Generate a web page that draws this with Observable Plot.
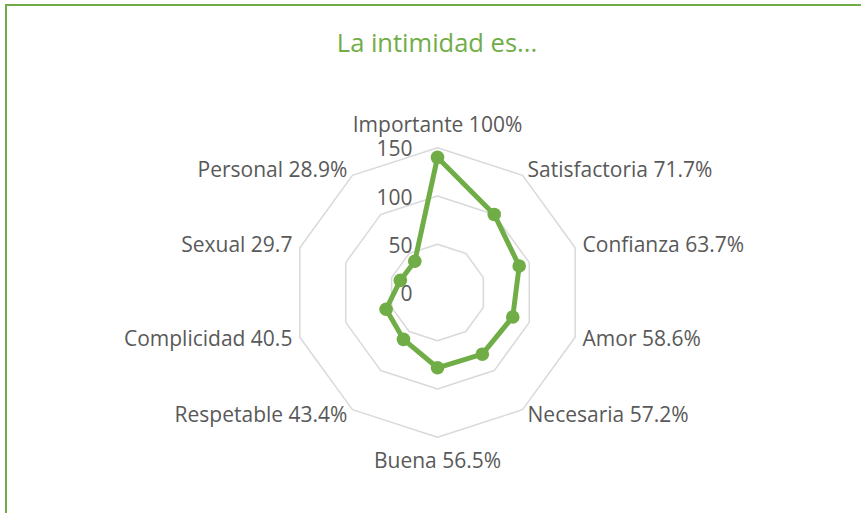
<!DOCTYPE html>
<html>
<head>
<meta charset="utf-8">
<script src="https://cdn.jsdelivr.net/npm/d3@7"></script>
<script src="https://cdn.jsdelivr.net/npm/@observablehq/plot@0.6"></script>
<style>
  html, body { margin: 0; padding: 0; background: #fff; overflow: hidden; }
  #wrap { position: relative; width: 861px; height: 513px; overflow: hidden; background: #fff; }
  #frame { position: absolute; left: 5px; top: 4px; width: 1000px; height: 1000px;
           border-top: 2px solid #70AD47; border-left: 2px solid #70AD47; pointer-events: none; z-index: 5; }
  #title { height: 80px; position: relative; }
  #title span { position: absolute; left: 0; width: 874px; top: 30px; text-align: center;
                font-family: "Open Sans", sans-serif; font-size: 25.5px; line-height: 1; color: #70AD47; }
  #chart svg { display: block; }
</style>
</head>
<body>
<div id="wrap">
  <div id="frame"></div>
  <div id="title"><span>La intimidad es...</span></div>
  <div id="chart"></div>
</div>
<script>
const categories = ["Importante 100%", "Satisfactoria 71.7%", "Confianza 63.7%", "Amor 58.6%",
  "Necesaria 57.2%", "Buena 56.5%", "Respetable 43.4%", "Complicidad 40.5", "Sexual 29.7", "Personal 28.9%"];
const values = [140, 100, 89, 82, 79, 78, 60, 56, 40.5, 40];
const ringLevels = [50, 100, 150];
const tickValues = [0, 50, 100, 150];
const tickLabels = ["0", "50", "100", "150"];

const n = categories.length;
const labelR = 157;
const k = 0.965;           // pixels per data unit
const W = 861, H = 433, cx = 437, cy = 212;
const ang = i => (i % n) * 2 * Math.PI / n;

const pts = categories.map((c, i) => ({cat: c, v: values[i], x: values[i] * Math.sin(ang(i)), y: values[i] * Math.cos(ang(i))}));
const closed = [...pts, pts[0]];
const rings = ringLevels.flatMap(l => d3.range(n + 1).map(i => ({level: l, x: l * Math.sin(ang(i)), y: l * Math.cos(ang(i))})));
const labels = categories.map((c, i) => ({cat: c, s: Math.sin(ang(i)), c2: Math.cos(ang(i)),
  x: labelR * Math.sin(ang(i)), y: labelR * Math.cos(ang(i))}));
const ticks = tickValues.map((v, i) => ({v, t: tickLabels[i]}));

const eps = 1e-6;
const txt = {fill: "#595959", fontSize: 21, fontFamily: "Open Sans"};

const chart = Plot.plot({
  width: W, height: H, margin: 0,
  x: {domain: [-cx / k, (W - cx) / k], axis: null},
  y: {domain: [-(H - cy) / k, cy / k], axis: null},
  style: {fontFamily: "Open Sans", background: "transparent", color: "#595959"},
  marks: [
    Plot.line(rings, {x: "x", y: "y", z: "level", stroke: "#D9D9D9", strokeWidth: 1.5}),
    Plot.text(ticks, {x: 0, y: "v", text: "t", textAnchor: "end", dx: -25, dy: 2, ...txt}),
    Plot.line(closed, {x: "x", y: "y", stroke: "#70AD47", strokeWidth: 5, strokeLinejoin: "round"}),
    Plot.dot(pts, {x: "x", y: "y", r: 6.8, fill: "#70AD47", stroke: "none"}),
    Plot.text(labels.filter(d => d.s > eps), {x: "x", y: "y", text: "cat", textAnchor: "start", dx: 1, ...txt}),
    Plot.text(labels.filter(d => d.s < -eps), {x: "x", y: "y", text: "cat", textAnchor: "end", dx: -1, ...txt}),
    Plot.text(labels.filter(d => Math.abs(d.s) <= eps && d.c2 > 0), {x: "x", y: "y", text: "cat", textAnchor: "middle", dy: -16, ...txt}),
    Plot.text(labels.filter(d => Math.abs(d.s) <= eps && d.c2 < 0), {x: "x", y: "y", text: "cat", textAnchor: "middle", dy: 17, ...txt})
  ]
});
document.getElementById("chart").appendChild(chart);
</script>
</body>
</html>
